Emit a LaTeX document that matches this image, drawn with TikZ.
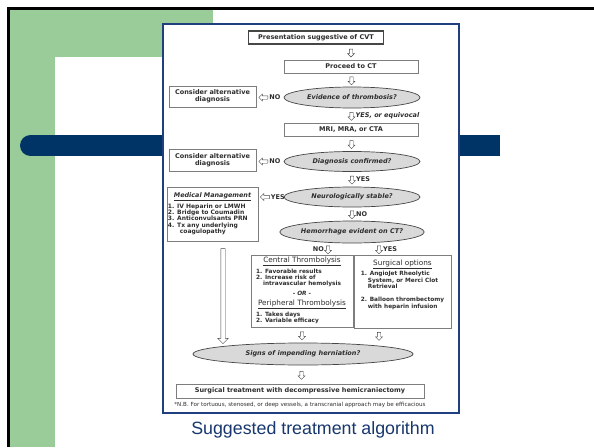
\documentclass[tikz,border=0pt]{standalone}
\usepackage{fontspec}
\setmainfont{DejaVu Sans}
\newfontfamily\capfont{Liberation Sans}
\usetikzlibrary{shapes.geometric,shapes.arrows}

\definecolor{slidegreen}{RGB}{153,204,153}
\definecolor{slideblue}{RGB}{0,51,102}
\definecolor{frameblue}{RGB}{31,63,127}
\definecolor{capblue}{RGB}{23,55,110}
\definecolor{boxgray}{RGB}{125,125,125}
\definecolor{ellfill}{RGB}{217,217,217}
\definecolor{linegray}{RGB}{70,70,70}
\definecolor{txtgray}{RGB}{45,45,45}

\newcommand{\boxfont}{\fontsize{6.5}{7}\selectfont\bfseries}
\newcommand{\quesfont}{\fontsize{6.5}{7}\selectfont\bfseries\itshape}
\newcommand{\listfont}{\fontsize{5.8}{6.3}\selectfont\bfseries}
\newcommand{\medfont}{\fontsize{6}{5.9}\selectfont\bfseries}
\newcommand{\headfont}{\fontsize{7.3}{8}\selectfont\mdseries}
\newcommand{\notefont}{\fontsize{5.6}{6}\selectfont}

\begin{document}
\begin{tikzpicture}[x=1pt, y=-1pt,
  box/.style={draw=boxgray, fill=white, line width=0.7pt, align=center, inner sep=1pt, text=txtgray, font=\boxfont},
  ques/.style={ellipse, draw=linegray, fill=ellfill, line width=0.7pt, inner sep=0pt, text=txtgray, font=\quesfont},
  hollow/.style={single arrow, draw=linegray, fill=white, line width=0.45pt, minimum width=0pt},
  darr/.style={hollow, inner sep=1.5pt, minimum height=8pt, single arrow head extend=1.7pt, rotate=-90},
  larr/.style={hollow, inner sep=1.5pt, minimum height=9pt, single arrow head extend=1.7pt, rotate=180},
  longarr/.style={hollow, inner sep=2pt, minimum height=95pt, single arrow head extend=3pt, rotate=-90},
  lbl/.style={font=\boxfont, text=txtgray, inner sep=0.5pt}
]
\useasboundingbox (0,0) rectangle (594,447);
% slide background
\begin{scope}
\clip (0,0) rectangle (594,447);
\fill[slidegreen] (9,10) rectangle (55,447);
\fill[slidegreen] (9,10) rectangle (213,57);
\fill[white, rounded corners=17pt] (55,57) rectangle (640,480);
\fill[slideblue] (30,135) rectangle (500,156);
\fill[slideblue] (30.5,145.5) circle (10.5);
\fill[black] (7,7) rectangle (594,10);
\fill[black] (7,7) rectangle (9.5,447);
\end{scope}
\draw[frameblue, line width=1.2pt, fill=white] (163,24) rectangle (459,413);

% flowchart
\node[box, draw=linegray, line width=1.4pt, minimum width=135pt, minimum height=13pt] (present) at (316,37.5) {Presentation suggestive of CVT};
\node[box, minimum width=134pt, minimum height=13pt] (proceed) at (351,66.5) {Proceed to CT};
\node[ques, minimum width=136pt, minimum height=21pt] (thromb) at (352,97.5) {Evidence of thrombosis?};
\node[box, minimum width=87pt, minimum height=21pt] (altone) at (212.5,96.5) {Consider alternative\\diagnosis};
\node[box, minimum width=134pt, minimum height=13pt] (imaging) at (351,129.5) {MRI, MRA, or CTA};
\node[ques, minimum width=136pt, minimum height=20pt] (confirm) at (352,161.5) {Diagnosis confirmed?};
\node[box, minimum width=87pt, minimum height=22pt] (alttwo) at (212.5,160) {Consider alternative\\diagnosis};
\node[ques, minimum width=136pt, minimum height=20pt] (stable) at (352,197) {Neurologically stable?};
\node[box, minimum width=87pt, minimum height=54pt] (medical) at (212.5,214) {\medfont
  \begin{tabular}{@{}l@{}}
  \multicolumn{1}{c}{\fontsize{6.4}{7}\selectfont\bfseries\itshape\underline{Medical Management}}\\[4pt]
  1. IV Heparin or LMWH\\
  2. Bridge to Coumadin\\
  3. Anticonvulsants PRN\\
  4. Tx any underlying\\
  \hspace*{12pt}coagulopathy
  \end{tabular}};
\node[ques, minimum width=137pt, minimum height=22pt] (hemorr) at (352,232) {Hemorrhage evident on CT?};
\node[box, minimum width=96pt, minimum height=72pt] (central) at (302,291) {\listfont
  \begin{tabular}{@{}l@{}}
  \multicolumn{1}{c}{\headfont\underline{Central Thrombolysis}}\\[4pt]
  \hspace*{4pt}1. Favorable results\\
  \hspace*{4pt}2. Increase risk of\\
  \hspace*{11pt}intravascular hemolysis\\[4pt]
  \multicolumn{1}{c}{- \textit{OR} -}\\[2pt]
  \multicolumn{1}{c}{\headfont\underline{Peripheral Thrombolysis}}\\[5pt]
  \hspace*{4pt}1. Takes days\\
  \hspace*{4pt}2. Variable efficacy
  \end{tabular}};
\node[box, minimum width=97pt, minimum height=73pt] (surgical) at (402.5,291.5) {\listfont
  \begin{tabular}{@{}l@{}}
  \multicolumn{1}{c}{\headfont\underline{Surgical options}}\\[4pt]
  1. AngioJet Rheolytic\\
  \hspace*{7pt}System, or Merci Clot\\
  \hspace*{7pt}Retrieval\\[7pt]
  2. Balloon thrombectomy\\
  \hspace*{7pt}with heparin infusion\\[13pt]
  \end{tabular}};
\node[ques, minimum width=220pt, minimum height=22pt] (herniate) at (303,354) {Signs of impending herniation?};
\node[box, minimum width=248pt, minimum height=14pt] (craniect) at (300,391) {Surgical treatment with decompressive hemicraniectomy};
\node[font=\notefont, text=txtgray, inner sep=0pt] (nbnote) at (300,404.5) {*N.B. For tortuous, stenosed, or deep vessels, a transcranial approach may be efficacious};
\node[font=\capfont\fontsize{17.8}{20}\selectfont, text=capblue, anchor=base, inner sep=0pt] (caption) at (313,434) {Suggested treatment algorithm};

% connectors
\coordinate (nosplit) at (328,0);
\coordinate (yessplit) at (379,0);
\path (present.south -| proceed) -- node[darr]{} (proceed.north);
\path (proceed.south) -- node[darr]{} (thromb.north);
\path (thromb.west) -- node[larr, pos=0.71]{} node[lbl, pos=0.71, anchor=west, xshift=4.5pt]{NO} (thromb.west -| altone.east);
\path (thromb.south) -- node[darr]{} node[lbl, anchor=west, xshift=3.5pt]{\itshape YES, or equivocal} (imaging.north);
\path (imaging.south) -- node[darr]{} (confirm.north);
\path (confirm.west) -- node[larr, pos=0.71]{} node[lbl, pos=0.71, anchor=west, xshift=4.5pt]{NO} (confirm.west -| alttwo.east);
\path (confirm.south) -- node[darr]{} node[lbl, anchor=west, xshift=3.5pt]{YES} (stable.north);
\path (stable.west) -- node[larr, pos=0.71]{} node[lbl, pos=0.71, anchor=west, xshift=4.5pt]{YES} (stable.west -| medical.east);
\path (stable.south) -- node[darr]{} node[lbl, anchor=west, xshift=3.5pt]{NO} (hemorr.north);
\path (hemorr.south -| nosplit) -- node[darr]{} node[lbl, anchor=east, xshift=-3.5pt]{NO} (central.north -| nosplit);
\path (hemorr.south -| yessplit) -- node[darr]{} node[lbl, anchor=west, xshift=3.5pt]{YES} (surgical.north -| yessplit);
\path ([xshift=10.5pt,yshift=-6pt]medical.south) -- node[longarr]{} ([xshift=10.5pt]medical.south |- herniate.north);
\path (central.south) -- node[darr]{} (central.south |- herniate.north);
\path (surgical.south -| yessplit) -- node[darr]{} (yessplit |- herniate.north);
\path (herniate.south) -- node[darr]{} (craniect.north);
\end{tikzpicture}
\end{document}
